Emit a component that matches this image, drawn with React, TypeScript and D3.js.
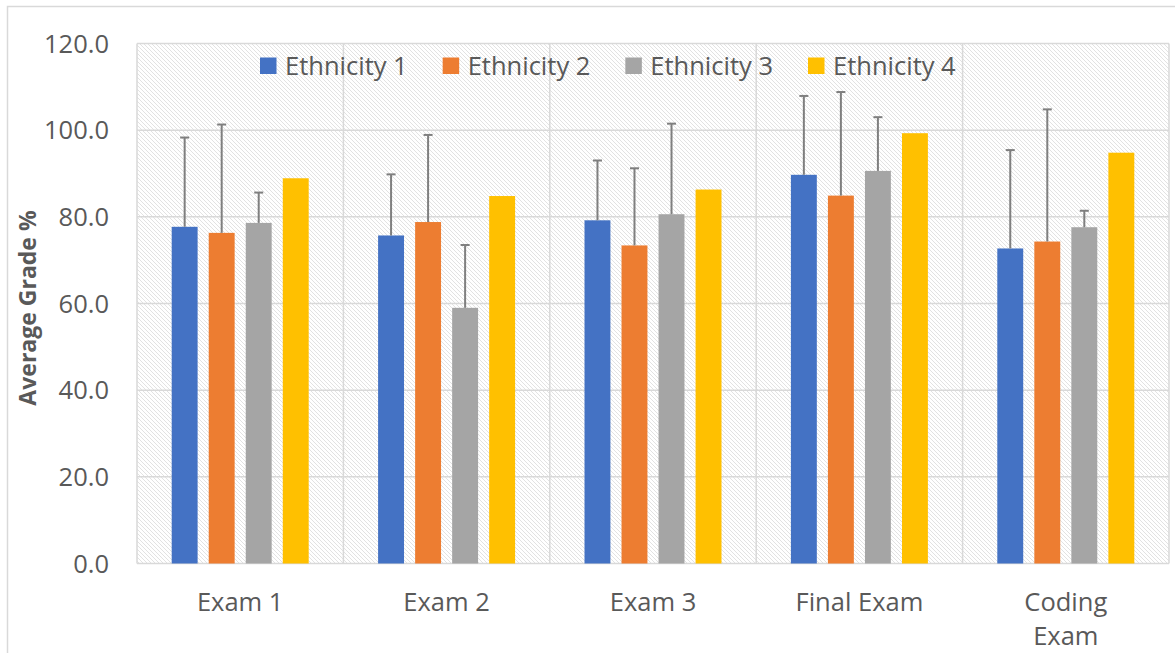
import React, { useEffect, useRef } from "react";
import * as d3 from "d3";

const categories = ["Exam 1", "Exam 2", "Exam 3", "Final Exam", "Coding Exam"];
const seriesNames = ["Ethnicity 1", "Ethnicity 2", "Ethnicity 3", "Ethnicity 4"];
const colors = ["#4472C4", "#ED7D31", "#A5A5A5", "#FFC000"];

const ethnicity1 = [77.7, 75.7, 79.2, 89.7, 72.7];
const ethnicity2 = [76.3, 78.8, 73.4, 84.9, 74.3];
const ethnicity3 = [78.6, 59.0, 80.6, 90.6, 77.6];
const ethnicity4 = [88.9, 84.8, 86.3, 99.3, 94.8];

// plus-only error amounts (Ethnicity 4 has none)
const error1 = [20.6, 14.1, 13.8, 18.2, 22.7];
const error2 = [25.0, 20.1, 17.8, 23.9, 30.5];
const error3 = [7.0, 14.5, 20.9, 12.4, 3.8];

const yTicks = [0, 20, 40, 60, 80, 100, 120];

const App = () => {
  const svgRef = useRef<SVGSVGElement>(null);

  useEffect(() => {
    const width = 1175;
    const height = 653;
    const marginLeft = 137;
    const marginRight = 6;
    const marginTop = 43.5;
    const bottom = 563.5;
    const font = "'Open Sans', sans-serif";
    const textColor = "#595959";
    const gridColor = "#d9d9d9";
    const fontSize = 25.5;

    const values = [ethnicity1, ethnicity2, ethnicity3, ethnicity4];
    const errors: (number[] | null)[] = [error1, error2, error3, null];

    const svg = d3.select(svgRef.current).attr("width", width).attr("height", height);
    svg.selectAll("*").remove();

    // hatch pattern for the plot area
    const pattern = svg
      .append("defs")
      .append("pattern")
      .attr("id", "hatch")
      .attr("patternUnits", "userSpaceOnUse")
      .attr("width", 4)
      .attr("height", 4);
    pattern.append("rect").attr("width", 4).attr("height", 4).attr("fill", "#ffffff");
    pattern
      .append("path")
      .attr("d", "M-1,-1 L5,5 M-1,3 L1,5 M3,-1 L5,1")
      .attr("stroke", "#e2e2e2")
      .attr("stroke-width", 1);

    svg.append("rect").attr("width", width).attr("height", height).attr("fill", "#ffffff");

    // outer chart border
    svg
      .append("rect")
      .attr("x", 7.5)
      .attr("y", 6.5)
      .attr("width", width)
      .attr("height", height)
      .attr("fill", "none")
      .attr("stroke", gridColor)
      .attr("stroke-width", 1.5);

    const x0 = d3
      .scaleBand()
      .domain(categories)
      .range([marginLeft, width - marginRight])
      .padding(0);

    const groupPad = 34.7;
    const x1 = d3
      .scaleBand()
      .domain(seriesNames)
      .range([groupPad, x0.bandwidth() - groupPad])
      .paddingInner(0.3)
      .paddingOuter(0);

    const y = d3.scaleLinear().domain([0, 120]).range([bottom, marginTop]);

    // plot area background
    svg
      .append("rect")
      .attr("x", marginLeft)
      .attr("y", marginTop)
      .attr("width", width - marginRight - marginLeft)
      .attr("height", bottom - marginTop)
      .attr("fill", "url(#hatch)");

    // horizontal grid
    svg
      .append("g")
      .selectAll("line")
      .data(yTicks)
      .join("line")
      .attr("x1", marginLeft)
      .attr("x2", width - marginRight)
      .attr("y1", (d) => y(d))
      .attr("y2", (d) => y(d))
      .attr("stroke", gridColor)
      .attr("stroke-width", 1.5);

    // vertical category separators
    const edges = categories.map((c) => x0(c)!).concat([width - marginRight]);
    svg
      .append("g")
      .selectAll("line")
      .data(edges)
      .join("line")
      .attr("x1", (d) => d)
      .attr("x2", (d) => d)
      .attr("y1", marginTop)
      .attr("y2", bottom)
      .attr("stroke", gridColor)
      .attr("stroke-width", 1.5);

    // bars
    seriesNames.forEach((s, i) => {
      svg
        .append("g")
        .selectAll("rect")
        .data(values[i])
        .join("rect")
        .attr("x", (_, j) => x0(categories[j])! + x1(s)!)
        .attr("y", (d) => y(d))
        .attr("width", x1.bandwidth())
        .attr("height", (d) => y(0) - y(d))
        .attr("fill", colors[i]);
    });

    // error bars
    seriesNames.forEach((s, i) => {
      const err = errors[i];
      if (!err) return;
      const g = svg.append("g").attr("stroke", "#7f7f7f").attr("stroke-width", 2);
      values[i].forEach((v, j) => {
        const cx = x0(categories[j])! + x1(s)! + x1.bandwidth() / 2;
        g.append("line")
          .attr("x1", cx)
          .attr("x2", cx)
          .attr("y1", y(v))
          .attr("y2", y(v + err[j]));
        g.append("line")
          .attr("x1", cx - 4.5)
          .attr("x2", cx + 4.5)
          .attr("y1", y(v + err[j]))
          .attr("y2", y(v + err[j]));
      });
    });

    // y tick labels
    svg
      .append("g")
      .selectAll("text")
      .data(yTicks)
      .join("text")
      .attr("x", 109)
      .attr("y", (d) => y(d))
      .attr("dy", "0.36em")
      .attr("text-anchor", "end")
      .attr("font-family", font)
      .attr("font-size", fontSize)
      .attr("fill", textColor)
      .text((d) => d.toFixed(1));

    // x category labels (wrap two-word label for last category)
    const xLabels = svg
      .append("g")
      .selectAll("text")
      .data(categories)
      .join("text")
      .attr("x", (d) => x0(d)! + x0.bandwidth() / 2)
      .attr("y", 611)
      .attr("text-anchor", "middle")
      .attr("font-family", font)
      .attr("font-size", fontSize)
      .attr("fill", textColor);
    xLabels.each(function (d) {
      const t = d3.select(this);
      if (d === "Coding Exam") {
        t.append("tspan").attr("x", x0(d)! + x0.bandwidth() / 2).text("Coding");
        t.append("tspan").attr("x", x0(d)! + x0.bandwidth() / 2).attr("dy", 34).text("Exam");
      } else {
        t.text(d);
      }
    });

    // y axis title
    svg
      .append("text")
      .attr("transform", "translate(36, 308) rotate(-90)")
      .attr("text-anchor", "middle")
      .attr("font-family", font)
      .attr("font-weight", "bold")
      .attr("font-size", 23)
      .attr("fill", textColor)
      .text("Average Grade %");

    // legend
    const legendX = d3.scalePoint().domain(seriesNames).range([260, 808]);
    const legend = svg
      .append("g")
      .selectAll("g")
      .data(seriesNames)
      .join("g")
      .attr("transform", (d) => `translate(${legendX(d)}, 66)`);
    legend
      .append("rect")
      .attr("x", 0)
      .attr("y", -8.5)
      .attr("width", 16.5)
      .attr("height", 16.5)
      .attr("fill", (_, i) => colors[i]);
    legend
      .append("text")
      .attr("x", 25)
      .attr("y", 0)
      .attr("dy", "0.36em")
      .attr("font-family", font)
      .attr("font-size", fontSize)
      .attr("fill", textColor)
      .text((d) => d);
  }, []);

  return (
    <div style={{ position: "absolute", left: 0, top: 0 }}>
      <svg ref={svgRef}></svg>
    </div>
  );
};

export default App;
